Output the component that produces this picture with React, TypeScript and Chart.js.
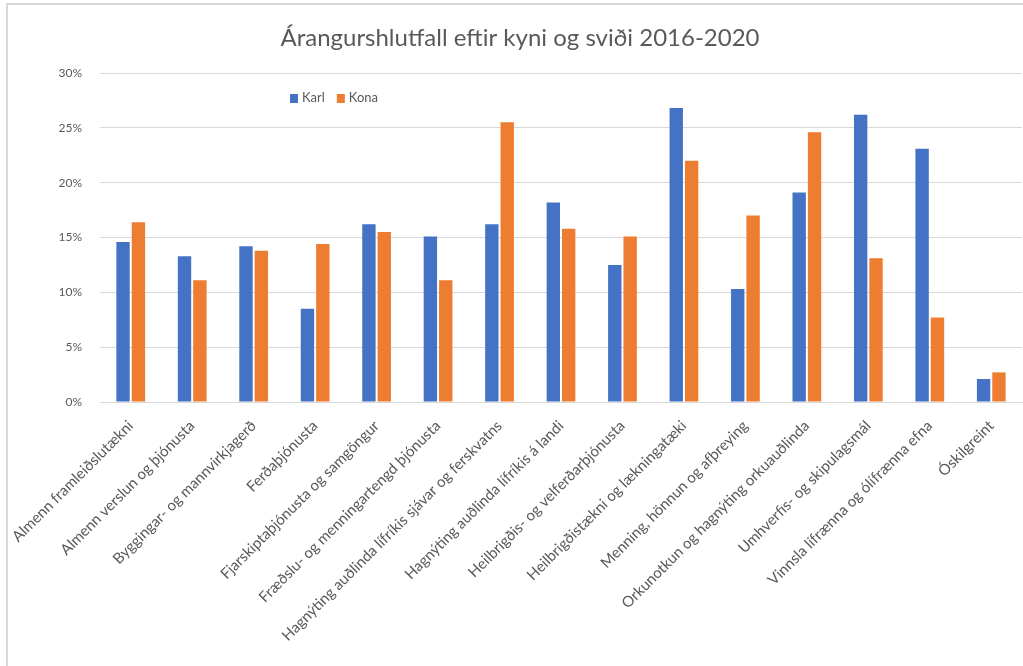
import React, { useEffect, useRef } from "react";
import { Chart, registerables } from "chart.js";

Chart.register(...registerables);

const categories: string[] = [
  "Almenn framleiðslutækni",
  "Almenn verslun og þjónusta",
  "Byggingar- og mannvirkjagerð",
  "Ferðaþjónusta",
  "Fjarskiptaþjónusta og samgöngur",
  "Fræðslu- og menningartengd þjónusta",
  "Hagnýting auðlinda lífríkis sjávar og ferskvatns",
  "Hagnýting auðlinda lífríkis á landi",
  "Heilbrigðis- og velferðarþjónusta",
  "Heilbrigðistækni og lækningatæki",
  "Menning, hönnun og afþreying",
  "Orkunotkun og hagnýting orkuauðlinda",
  "Umhverfis- og skipulagsmál",
  "Vinnsla lífrænna og ólífrænna efna",
  "Óskilgreint",
];

const karl: number[] = [14.6, 13.3, 14.2, 8.5, 16.2, 15.1, 16.2, 18.2, 12.5, 26.8, 10.3, 19.1, 26.2, 23.1, 2.1];
const kona: number[] = [16.4, 11.1, 13.8, 14.4, 15.5, 11.1, 25.5, 15.8, 15.1, 22.0, 17.0, 24.6, 13.1, 7.7, 2.7];

const seriesNames: string[] = ["Karl", "Kona"];
const titleText = "Árangurshlutfall eftir kyni og sviði 2016-2020";

const BLUE = "#4472C4";
const ORANGE = "#ED7D31";
const GRAY_TEXT = "#595959";
const GRID = "#d9d9d9";

const decorPlugin = {
  id: "decor",
  beforeDraw(chart: any) {
    const ctx = chart.ctx;
    ctx.save();
    ctx.fillStyle = "#ffffff";
    ctx.fillRect(0, 0, chart.width, chart.height);
    ctx.strokeStyle = GRID;
    ctx.lineWidth = 2;
    ctx.beginPath();
    ctx.moveTo(7, 666);
    ctx.lineTo(7, 4);
    ctx.lineTo(1023, 4);
    ctx.stroke();
    ctx.restore();
  },
  afterDraw(chart: any) {
    const ctx = chart.ctx;
    ctx.save();
    ctx.fillStyle = GRAY_TEXT;
    ctx.font = "24px Lato, 'Open Sans', sans-serif";
    ctx.textAlign = "center";
    ctx.textBaseline = "middle";
    ctx.fillText(titleText, 520, 38);
    // legend
    ctx.font = "13px Lato, sans-serif";
    ctx.textAlign = "left";
    const colors = [BLUE, ORANGE];
    let x = 290;
    const y = 98;
    seriesNames.forEach((n, i) => {
      ctx.fillStyle = colors[i];
      ctx.fillRect(x, y - 4, 8, 9);
      ctx.fillStyle = GRAY_TEXT;
      ctx.fillText(n, x + 12, y);
      x += 12 + ctx.measureText(n).width + 12;
    });
    ctx.restore();
  },
};

export default function App() {
  const ref = useRef<HTMLCanvasElement | null>(null);
  useEffect(() => {
    document.body.style.margin = "0";
    const chart = new Chart(ref.current as HTMLCanvasElement, {
      type: "bar",
      data: {
        labels: categories,
        datasets: [
          { label: seriesNames[0], data: karl, backgroundColor: BLUE, barPercentage: 0.87, categoryPercentage: 0.5 },
          { label: seriesNames[1], data: kona, backgroundColor: ORANGE, barPercentage: 0.87, categoryPercentage: 0.5 },
        ],
      },
      options: {
        animation: false,
        responsive: false,
        maintainAspectRatio: false,
        layout: { padding: { top: 73, right: 1, left: 0, bottom: 0 } },
        plugins: {
          legend: { display: false },
          title: { display: false },
          tooltip: { enabled: false },
        },
        scales: {
          x: {
            grid: { display: false, drawTicks: false },
            border: { display: true, color: GRID, width: 1 },
            ticks: {
              autoSkip: false,
              maxRotation: 45,
              minRotation: 45,
              padding: 15,
              color: GRAY_TEXT,
              font: { family: "Lato, sans-serif", size: 15 },
            },
            afterFit(scale: any) {
              scale.height = 264;
              scale.paddingLeft = 0;
              scale.paddingRight = 0;
            },
          },
          y: {
            min: 0,
            max: 30,
            ticks: {
              stepSize: 5,
              padding: 18,
              color: GRAY_TEXT,
              font: { family: "Lato, sans-serif", size: 12 },
              callback: (v: any) => v + "%",
            },
            grid: { color: GRID, drawTicks: false, lineWidth: 1 },
            border: { display: false },
            afterFit(scale: any) {
              scale.width = 100;
            },
          },
        },
      },
      plugins: [decorPlugin],
    } as any);
    return () => chart.destroy();
  }, []);
  return (
    <div style={{ position: "absolute", left: 0, top: 0, width: 1023, height: 666 }}>
      <canvas ref={ref} width={1023} height={666} style={{ width: 1023, height: 666, display: "block" }} />
    </div>
  );
}
